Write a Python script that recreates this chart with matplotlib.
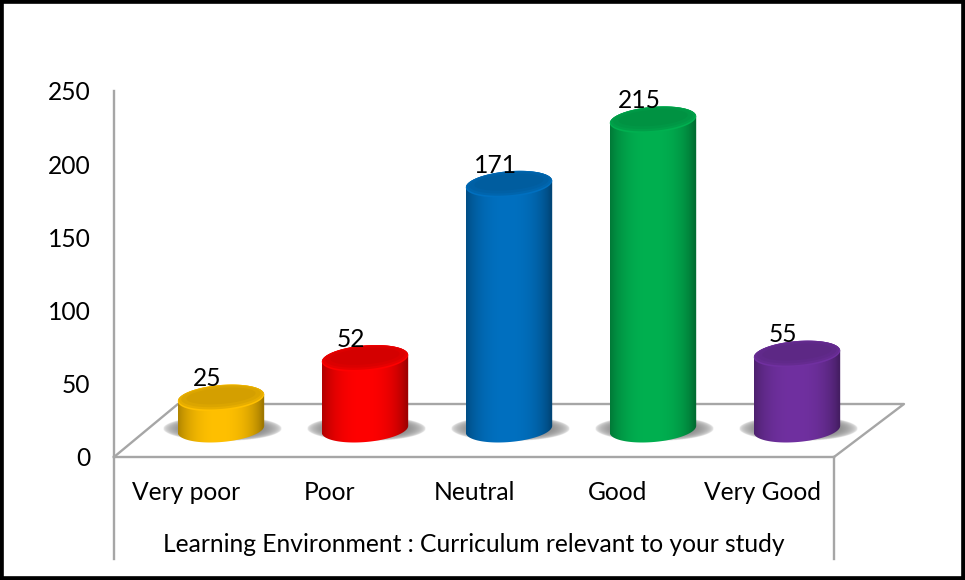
import numpy as np
import matplotlib
matplotlib.use("Agg")
import matplotlib.pyplot as plt
from matplotlib.colors import to_rgb
from matplotlib.patches import PathPatch, Rectangle
from matplotlib.path import Path

plt.rcParams["font.family"] = ["Lato", "DejaVu Sans"]

categories = ["Very poor", "Poor", "Neutral", "Good", "Very Good"]
values = [25, 52, 171, 215, 55]
bar_colors = ["#FFC000", "#FF0000", "#0070C0", "#00B050", "#7030A0"]
y_ticks = [0, 50, 100, 150, 200, 250]
axis_title = "Learning Environment : Curriculum relevant to your study"

GREY = "#a6a6a6"
DX, A = 0.243, 0.30        # depth shift and bar radius, x units
BASE, LIFT = 19, 15.4      # bar base and top shift, y units
B, TILT = 8.8, 2.3         # ellipse half height and tilt, y units
FS = 17.7

fig = plt.figure(figsize=(9.65, 5.8), dpi=100)
ax = fig.add_axes([114 / 965, 1 - 457 / 580, 720 / 965, 366 / 580])


def ell(cx, cy, t, a=A, b=B):
    return np.column_stack([cx + a * np.cos(t), cy + b * np.sin(t) + TILT * (a / A) * np.cos(t)])


def closed(pts):
    return Path(np.vstack([pts, pts[:1]]), closed=True)


def shade(rgb, f):
    return tuple(min(1, c * f) for c in rgb)


def cylinder(cx, top, color):
    rgb = np.array(to_rgb(color))
    # soft floor shadow
    gx, gy = np.meshgrid(np.linspace(-1, 1, 200), np.linspace(-1, 1, 80))
    alpha = np.clip(1 - gx**2 - gy**2, 0, 1) ** 0.45
    img = np.zeros((80, 200, 4))
    img[..., :3] = 0.42
    img[..., 3] = alpha
    ax.imshow(img, extent=[cx - 0.40, cx + 0.42, BASE - 8, BASE + 9], aspect="auto",
              origin="lower", zorder=2, clip_on=False)

    # body with a horizontal gradient
    t1 = np.linspace(np.pi, 2 * np.pi, 60)
    t2 = np.linspace(0, np.pi, 60)
    body = closed(np.vstack([ell(cx, BASE, t1), ell(cx, top, t2)]))
    u = np.linspace(-1, 1, 200)
    f = 0.62 + 0.38 * np.clip(1 - np.abs(u + 0.05) ** 2.4, 0, 1) ** 0.8
    grad = (f[None, :, None] * rgb[None, None, :])
    im = ax.imshow(grad, extent=[cx - A, cx + A, BASE - 15, top + 15], aspect="auto",
                   origin="lower", zorder=3)
    patch = PathPatch(body, fc="none", ec="none", transform=ax.transData, clip_on=False)
    ax.add_patch(patch)
    # purple bar pokes past the axes edge, so clip to the figure and not the axes
    im.set_clip_box(fig.bbox)
    im.set_clip_path(patch)

    # top face: light lip, darker middle
    t = np.linspace(0, 2 * np.pi, 120)
    layers = [(1.0, 0.0, 1.0, 1.0), (0.98, 0.5, 0.92, 0.90), (0.92, 1.0, 0.80, 0.86),
              (0.80, 1.3, 0.62, 0.83)]
    for i, (fa, dy, fb, fc) in enumerate(layers):
        ax.add_patch(PathPatch(closed(ell(cx, top + dy, t, A * fa, B * fb)), fc=shade(rgb, fc),
                               ec="none", zorder=4 + i, clip_on=False))


x = np.arange(len(categories))
for xi, v, c in zip(x, values, bar_colors):
    cylinder(xi + DX, v + LIFT, c)
    ax.text(xi + 0.146, v + LIFT + 13, str(v), ha="center", va="center",
            fontsize=FS, color="black", zorder=9)

ax.set_xlim(-0.5, 4.5)
ax.set_ylim(0, 250)
ax.patch.set_visible(False)
for name in ["top", "right"]:
    ax.spines[name].set_visible(False)
for name in ["left", "bottom"]:
    ax.spines[name].set_color(GREY)
    ax.spines[name].set_linewidth(1.7)

ax.set_yticks(y_ticks)
ax.set_xticks(x)
ax.set_xticklabels(categories)
ax.tick_params(axis="both", length=0, labelsize=FS)
ax.tick_params(axis="y", pad=17)
ax.tick_params(axis="x", pad=17)

# floor outline
pts_x = [-0.5, -0.056, 4.986, 4.5]
pts_y = [0, 36.2, 36.2, 0]
ax.plot(pts_x, pts_y, color=GREY, lw=1.7, clip_on=False, zorder=1)

# multi level axis rules below the plot
ax.plot([-0.5, -0.5], [0, -70], color=GREY, lw=1.7, clip_on=False, zorder=1)
ax.plot([4.5, 4.5], [0, -70], color=GREY, lw=1.7, clip_on=False, zorder=1)
ax.text(2.0, -60, axis_title, ha="center", va="center", fontsize=FS, color="black")

fig.add_artist(Rectangle((0, 0), 1, 1, transform=fig.transFigure, fc="none", ec="black", lw=5.5))

fig.savefig("out.png", dpi=100)
